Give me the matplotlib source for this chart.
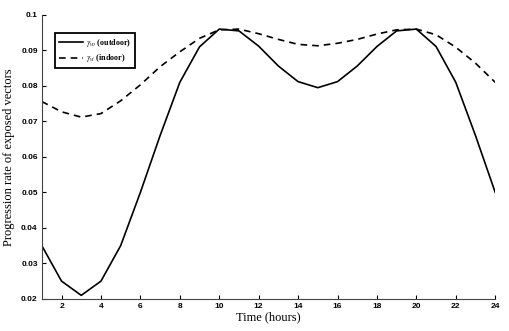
import numpy as np
import matplotlib
matplotlib.use("Agg")
import matplotlib.pyplot as plt

#########################################
# Data
#########################################
hours = np.arange(1, 25)
outdoor = [0.035, 0.025, 0.021, 0.025, 0.035, 0.050, 0.066, 0.081,
           0.091, 0.096, 0.0955, 0.0912, 0.0856, 0.0812, 0.0795, 0.0812,
           0.0856, 0.0911, 0.0955, 0.096, 0.0911, 0.081, 0.066, 0.050]
indoor = [0.0756, 0.0727, 0.0712, 0.0722, 0.0758, 0.0803, 0.0854, 0.0896,
          0.0934, 0.0958, 0.096, 0.0947, 0.0931, 0.0917, 0.0913, 0.0920,
          0.0931, 0.0946, 0.0958, 0.096, 0.0944, 0.0909, 0.0864, 0.0810]
xticks = list(range(2, 25, 2))
yticks = [0.02, 0.03, 0.04, 0.05, 0.06, 0.07, 0.08, 0.09, 0.1]
yticklabels = ["0.02", "0.03", "0.04", "0.05", "0.06", "0.07", "0.08", "0.09", "0.1"]

#########################################
# Plot
#########################################
plt.rcParams["mathtext.fontset"] = "stix"
fig = plt.figure(figsize=(5.1, 3.31), dpi=100)
ax = fig.add_axes([0.082, 0.097, 0.889, 0.858])

ax.plot(hours, outdoor, color="black", lw=1.2, label=r"$\gamma_{vo}$ (outdoor)")
ax.plot(hours, indoor, color="black", lw=1.2, ls=(0, (4, 3)),
        label=r"$\gamma_{vi}$ (indoor)")

ax.set_xlim(1, 24)
ax.set_ylim(0.02, 0.1)
ax.set_xticks(xticks)
ax.set_yticks(yticks)
ax.set_yticklabels(yticklabels)

for lab in ax.get_xticklabels() + ax.get_yticklabels():
    lab.set_fontsize(6)
    lab.set_fontweight("bold")
    lab.set_family("Liberation Sans")

ax.tick_params(direction="in", length=3, width=0.8, pad=3)
ax.spines["top"].set_visible(False)
ax.spines["right"].set_visible(False)
ax.spines["left"].set_color("#444444")
ax.spines["bottom"].set_color("#444444")

ax.set_xlabel("Time (hours)", family="Liberation Serif", fontsize=9, labelpad=1)
ax.set_ylabel("Progression rate of exposed vectors", family="Liberation Serif",
              fontsize=9, labelpad=4)

leg = ax.legend(loc="upper left", bbox_to_anchor=(0.028, 0.937),
                prop={"family": "Liberation Serif", "size": 5.8, "weight": "bold"},
                fancybox=False, edgecolor="black", framealpha=1,
                handlelength=3.0, handletextpad=0.4, borderpad=0.5,
                labelspacing=0.45, borderaxespad=0)
leg.get_frame().set_linewidth(1.3)

fig.savefig("out.png", dpi=100)
